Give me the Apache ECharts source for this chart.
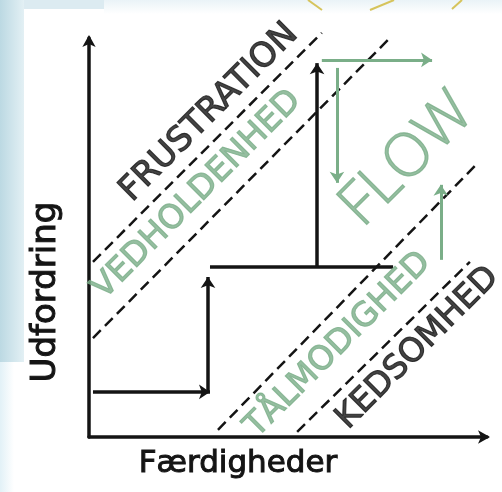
<!DOCTYPE html>
<html>
<head>
<meta charset="utf-8">
<script src="https://cdn.jsdelivr.net/npm/echarts@6/dist/echarts.min.js"></script>
<style>
  html, body { margin: 0; padding: 0; background: #ffffff; }
  #chart { width: 502px; height: 492px; }
</style>
</head>
<body>
<div id="chart"></div>
<script>
// ---- data (axis units: 0..100 on both axes) ----
const xAxisTitle = 'Færdigheder';
const yAxisTitle = 'Udfordring';

// black staircase: segments ending in an arrow head
const stairArrowSegments = [
  [[1.0, 11.3], [30.4, 11.3]],
  [[29.9, 11.3], [29.9, 40.1]],
  [[57.3, 42.6], [57.3, 93.7]]
];
// black staircase: plain segment
const stairPlainSegments = [
  [[30.4, 42.6], [76.4, 42.6]]
];
// green flow arrows
const flowArrowSegments = [
  [[58.5, 94.5], [86.2, 94.5]],
  [[62.3, 92.5], [62.3, 63.7]],
  [[88.4, 44.4], [88.4, 63.2]]
];
// dashed zone boundaries
const zoneBoundaries = [
  [[1.0, 43.9], [58.5, 101.3]],
  [[1.0, 24.8], [75.6, 100.0]],
  [[32.4, 1.8], [97.7, 68.7]],
  [[52.3, 1.3], [95.7, 43.9]]
];
// zone labels
const zoneNames = ['FRUSTRATION', 'VEDHOLDENHED', 'FLOW', 'TÅLMODIGHED', 'KEDSOMHED'];
const zoneCenters = [[30.2, 81.3], [27.1, 60.7], [79.9, 69.4], [62.6, 23.1], [82.6, 22.3]];
const zoneIsGreen = [false, true, true, true, false];

// ---- styles ----
const BLACK = '#141414';
const GREEN = '#7aae88';

const chart = echarts.init(document.getElementById('chart'), null, { renderer: 'canvas' });

function toLines(segs) { return segs.map(s => ({ coords: s })); }

const labelData = zoneNames.map((n, i) => {
  const isFlow = n === 'FLOW';
  const c = zoneIsGreen[i] ? GREEN : BLACK;
  return {
    name: n,
    value: zoneCenters[i],
    label: {
      color: c,
      textBorderColor: c,
      textBorderWidth: isFlow ? 1.2 : 1.1,
      fontSize: isFlow ? 60 : (n === 'FRUSTRATION' ? 34 : 33),
      fontFamily: isFlow ? 'Open Sans' : 'DejaVu Sans',
      fontWeight: isFlow ? 300 : 'normal'
    }
  };
});

const option = {
  backgroundColor: '#ffffff',
  animation: false,
  grid: { left: 89, right: 15, top: 38, bottom: 55 },
  xAxis: {
    type: 'value', min: 0, max: 100,
    axisLine: { show: true, lineStyle: { color: BLACK, width: 3.5 }, symbol: ['none', 'arrow'], symbolSize: [10, 12], symbolOffset: [0, 3] },
    axisTick: { show: false }, axisLabel: { show: false }, splitLine: { show: false }
  },
  yAxis: {
    type: 'value', min: 0, max: 100,
    axisLine: { show: true, lineStyle: { color: BLACK, width: 3.5 }, symbol: ['none', 'arrow'], symbolSize: [10, 12], symbolOffset: [0, 3] },
    axisTick: { show: false }, axisLabel: { show: false }, splitLine: { show: false }
  },
  graphic: [
    { type: 'rect', z: -10, shape: { x: 0, y: 0, width: 24, height: 362 },
      style: { fill: new echarts.graphic.LinearGradient(0, 0, 1, 0, [{ offset: 0, color: '#bcd9e3' }, { offset: 1, color: '#e3f0f4' }]) } },
    { type: 'rect', z: -10, shape: { x: 0, y: 362, width: 14, height: 130 },
      style: { fill: new echarts.graphic.LinearGradient(0, 0, 1, 0, [{ offset: 0, color: '#e2f1f7' }, { offset: 1, color: '#ffffff' }]) } },
    { type: 'rect', z: -10, shape: { x: 24, y: 0, width: 80, height: 9 }, style: { fill: '#dcebf1' } },
    { type: 'rect', z: -10, shape: { x: 104, y: 0, width: 398, height: 14 },
      style: { fill: new echarts.graphic.LinearGradient(0, 0, 0, 1, [{ offset: 0, color: '#eaf3f7' }, { offset: 1, color: '#ffffff' }]) } },
    { type: 'line', z: -5, shape: { x1: 308, y1: 0, x2: 322, y2: 10 }, style: { stroke: '#d6c45c', lineWidth: 2 } },
    { type: 'line', z: -5, shape: { x1: 394, y1: 0, x2: 370, y2: 10 }, style: { stroke: '#d6c45c', lineWidth: 2 } },
    { type: 'line', z: -5, shape: { x1: 462, y1: 0, x2: 452, y2: 9 }, style: { stroke: '#d6c45c', lineWidth: 2 } },
    { type: 'text', style: { text: xAxisTitle, x: 238, y: 464, align: 'center', verticalAlign: 'middle', fontSize: 31, fontFamily: 'DejaVu Sans', fill: BLACK, stroke: BLACK, lineWidth: 1 } },
    { type: 'text', x: 46, y: 292, rotation: Math.PI / 2, style: { text: yAxisTitle, x: 0, y: 0, align: 'center', verticalAlign: 'middle', fontSize: 34, fontFamily: 'DejaVu Sans', fill: BLACK, stroke: BLACK, lineWidth: 1 } }
  ],
  series: [
    { type: 'lines', coordinateSystem: 'cartesian2d', clip: false, z: 3,
      symbol: 'none', lineStyle: { color: BLACK, width: 2.5, type: [11, 6], opacity: 1 },
      data: toLines(zoneBoundaries) },
    { type: 'lines', coordinateSystem: 'cartesian2d', clip: false, z: 4,
      symbol: 'none', lineStyle: { color: BLACK, width: 3.5, opacity: 1 },
      data: toLines(stairPlainSegments) },
    { type: 'lines', coordinateSystem: 'cartesian2d', clip: false, z: 4,
      symbol: ['none', 'arrow'], symbolSize: 11, lineStyle: { color: BLACK, width: 3.5, opacity: 1 },
      data: toLines(stairArrowSegments) },
    { type: 'lines', coordinateSystem: 'cartesian2d', clip: false, z: 4,
      symbol: ['none', 'arrow'], symbolSize: 11, lineStyle: { color: GREEN, width: 3, opacity: 1 },
      data: toLines(flowArrowSegments) },
    { type: 'scatter', clip: false, z: 5, symbolSize: 0, silent: true,
      label: { show: true, position: 'inside', rotate: 45, formatter: p => p.name },
      data: labelData }
  ]
};
chart.setOption(option);
</script>
</body>
</html>
